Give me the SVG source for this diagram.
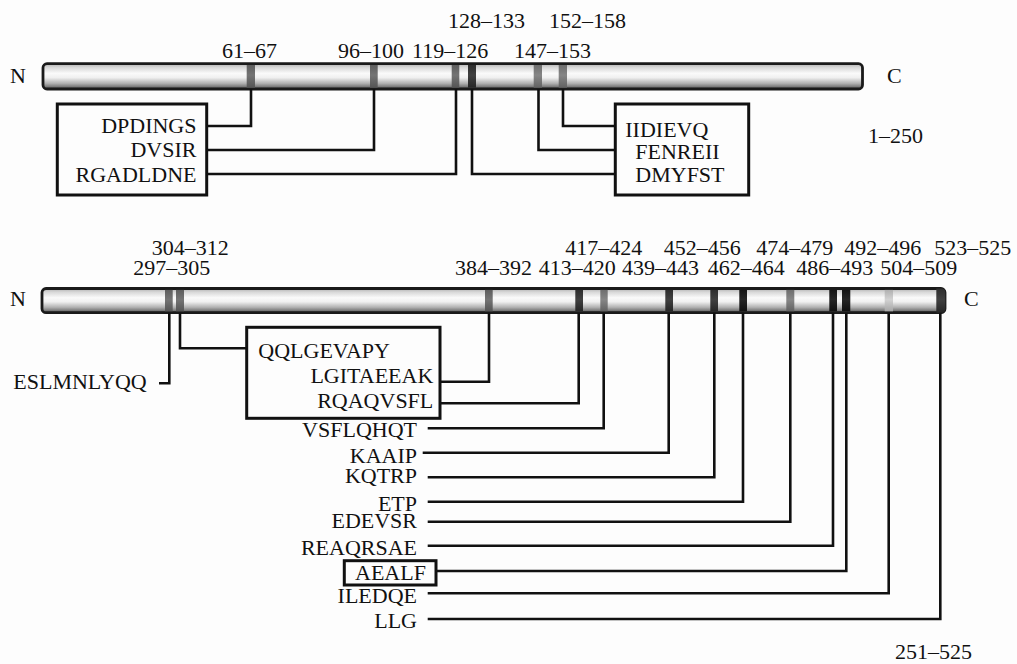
<svg xmlns="http://www.w3.org/2000/svg" width="1017" height="664" viewBox="0 0 1017 664">
<defs>
<linearGradient id="cyl" x1="0" y1="0" x2="0" y2="1">
<stop offset="0" stop-color="#b0b0b0"/>
<stop offset="0.15" stop-color="#d8d8d8"/>
<stop offset="0.38" stop-color="#fafafa"/>
<stop offset="0.55" stop-color="#f0f0f0"/>
<stop offset="0.78" stop-color="#b0b0b0"/>
<stop offset="1" stop-color="#555"/>
</linearGradient>
<linearGradient id="bMid" x1="0" y1="0" x2="0" y2="1">
<stop offset="0" stop-color="#5e5e5e"/><stop offset="0.45" stop-color="#747474"/><stop offset="1" stop-color="#555"/>
</linearGradient>
<linearGradient id="bLt" x1="0" y1="0" x2="0" y2="1">
<stop offset="0" stop-color="#6e6e6e"/><stop offset="0.45" stop-color="#868686"/><stop offset="1" stop-color="#626262"/>
</linearGradient>
<linearGradient id="bDk" x1="0" y1="0" x2="0" y2="1">
<stop offset="0" stop-color="#2e2e2e"/><stop offset="0.45" stop-color="#404040"/><stop offset="1" stop-color="#262626"/>
</linearGradient>
<linearGradient id="bBk" x1="0" y1="0" x2="0" y2="1">
<stop offset="0" stop-color="#151515"/><stop offset="0.45" stop-color="#262626"/><stop offset="1" stop-color="#111"/>
</linearGradient>
<linearGradient id="bPale" x1="0" y1="0" x2="0" y2="1">
<stop offset="0" stop-color="#b0b0b0"/><stop offset="0.45" stop-color="#d2d2d2"/><stop offset="1" stop-color="#a6a6a6"/>
</linearGradient>
</defs>
<style>
text{font-family:"Liberation Serif","Times New Roman",serif;font-size:22px;fill:#111}
.e{text-anchor:end}
.bar{fill:url(#cyl);stroke:#1a1a1a;stroke-width:2.8}
.box{fill:none;stroke:#111;stroke-width:3}
.conn{fill:none;stroke:#111;stroke-width:2.6}
.mid{fill:url(#bMid)}
.lt{fill:url(#bLt)}
.dk{fill:url(#bDk)}
.bk{fill:url(#bBk)}
.pale{fill:url(#bPale)}
</style>
<rect width="1017" height="664" fill="#fdfdfd"/>

<!-- Top protein 1-250 -->
<g id="protein-top">
<text x="10" y="83">N</text>
<rect class="bar" x="43" y="63.7" width="819.5" height="25.3" rx="4"/>
<rect class="mid" x="246.7" y="65" width="8.3" height="22.7"/>
<rect class="mid" x="370" y="65" width="7.7" height="22.7"/>
<rect class="mid" x="451.7" y="65" width="7.6" height="22.7"/>
<rect class="dk" x="468" y="65" width="8" height="22.7"/>
<rect class="lt" x="533.7" y="65" width="8.3" height="22.7"/>
<rect class="lt" x="558.7" y="65" width="8.3" height="22.7"/>
<text x="887" y="83">C</text>
<text x="868" y="143">1–250</text>
</g>
<g id="labels-top">
<text x="222" y="58">61–67</text>
<text x="338" y="58">96–100</text>
<text x="412" y="58">119–126</text>
<text x="448" y="28">128–133</text>
<text x="514" y="58">147–153</text>
<text x="549" y="28">152–158</text>
</g>
<g id="box-top-left">
<rect class="box" x="57.3" y="104" width="149.4" height="91"/>
<text class="e" x="196.5" y="133.3">DPDINGS</text>
<text class="e" x="196.5" y="157.3">DVSIR</text>
<text class="e" x="196.5" y="182.3">RGADLDNE</text>
</g>
<g id="box-top-right">
<rect class="box" x="615.3" y="104" width="133.4" height="91"/>
<text x="625.3" y="136.7">IIDIEVQ</text>
<text x="635.3" y="159.3">FENREII</text>
<text x="635.3" y="181.7">DMYFST</text>
</g>

<!-- Bottom protein 251-525 -->
<g id="protein-bottom">
<text x="10" y="306">N</text>
<rect class="bar" x="42" y="288.5" width="903" height="24.2" rx="4"/>
<rect class="mid" x="165" y="289.9" width="7.7" height="21.4"/>
<rect class="mid" x="176" y="289.9" width="8" height="21.4"/>
<rect class="mid" x="485" y="289.9" width="7.7" height="21.4"/>
<rect class="dk" x="575.3" y="289.9" width="7.7" height="21.4"/>
<rect class="lt" x="600.3" y="289.9" width="7.4" height="21.4"/>
<rect class="dk" x="665.3" y="289.9" width="7.7" height="21.4"/>
<rect class="dk" x="710.3" y="289.9" width="7.7" height="21.4"/>
<rect class="bk" x="739.3" y="289.9" width="7.7" height="21.4"/>
<rect class="lt" x="786.3" y="289.9" width="8" height="21.4"/>
<rect class="bk" x="829.3" y="289.9" width="7.7" height="21.4"/>
<rect class="bk" x="842" y="289.9" width="8.3" height="21.4"/>
<rect class="pale" x="884.7" y="289.9" width="8.3" height="21.4"/>
<path class="dk" d="M936.3 288.5 H941.3 A4 4 0 0 1 945.3 292.5 V308.7 A4 4 0 0 1 941.3 312.7 H936.3 Z"/>
<text x="964" y="306">C</text>
<text x="895" y="659">251–525</text>
</g>
<g id="labels-bottom">
<text x="151.7" y="255">304–312</text>
<text x="133.3" y="275">297–305</text>
<text x="455" y="275">384–392</text>
<text x="565.3" y="255">417–424</text>
<text x="663.7" y="255">452–456</text>
<text x="756.3" y="255">474–479</text>
<text x="844.3" y="255">492–496</text>
<text x="934.3" y="255">523–525</text>
<text x="538.7" y="275">413–420</text>
<text x="622" y="275">439–443</text>
<text x="707.7" y="275">462–464</text>
<text x="796.3" y="275">486–493</text>
<text x="880.3" y="275">504–509</text>
</g>
<g id="peptide-ESLMNLYQQ"><text x="13.3" y="389.3">ESLMNLYQQ</text></g>
<g id="box-bottom">
<rect class="box" x="246.7" y="327.3" width="193.3" height="91"/>
<text x="258.3" y="358.3">QQLGEVAPY</text>
<text class="e" x="433.3" y="383.3">LGITAEEAK</text>
<text class="e" x="433.3" y="408.3">RQAQVSFL</text>
</g>
<g id="peptides-bottom">
<text class="e" x="417" y="437.3">VSFLQHQT</text>
<text class="e" x="417" y="463.3">KAAIP</text>
<text class="e" x="417" y="482.7">KQTRP</text>
<text class="e" x="417" y="510.7">ETP</text>
<text class="e" x="417" y="528.3">EDEVSR</text>
<text class="e" x="417" y="555">REAQRSAE</text>
<g id="box-AEALF">
<rect class="box" x="344.3" y="560.7" width="91.7" height="24.3"/>
<text x="355" y="580">AEALF</text>
</g>
<text class="e" x="417" y="603.3">ILEDQE</text>
<text class="e" x="417" y="628.3">LLG</text>
</g>

<g id="connectors">
<path class="conn" d="M251 89 V126 H206.7"/>
<path class="conn" d="M374 89 V150 H206.7"/>
<path class="conn" d="M456 89 V174 H206.7"/>
<path class="conn" d="M472 89 V174 H615.3"/>
<path class="conn" d="M538.5 89 V150 H615.3"/>
<path class="conn" d="M563 89 V126 H615.3"/>

<path class="conn" d="M169.3 312.7 V383.3 H159"/>
<path class="conn" d="M180 312.7 V348.3 H246.7"/>
<path class="conn" d="M489 312.7 V381.7 H440"/>
<path class="conn" d="M578.7 312.7 V403.3 H440"/>
<path class="conn" d="M603.7 312.7 V428.3 H427.7"/>
<path class="conn" d="M668.7 312.7 V452.7 H422.7"/>
<path class="conn" d="M714.3 312.7 V477.3 H427.7"/>
<path class="conn" d="M743 312.7 V501.7 H427.7"/>
<path class="conn" d="M790.3 312.7 V521.7 H427.7"/>
<path class="conn" d="M833 312.7 V545.7 H427.7"/>
<path class="conn" d="M846.3 312.7 V571 H436"/>
<path class="conn" d="M888.7 312.7 V593.3 H427.7"/>
<path class="conn" d="M940.3 312.7 V619 H427.7"/>
</g>
</svg>
